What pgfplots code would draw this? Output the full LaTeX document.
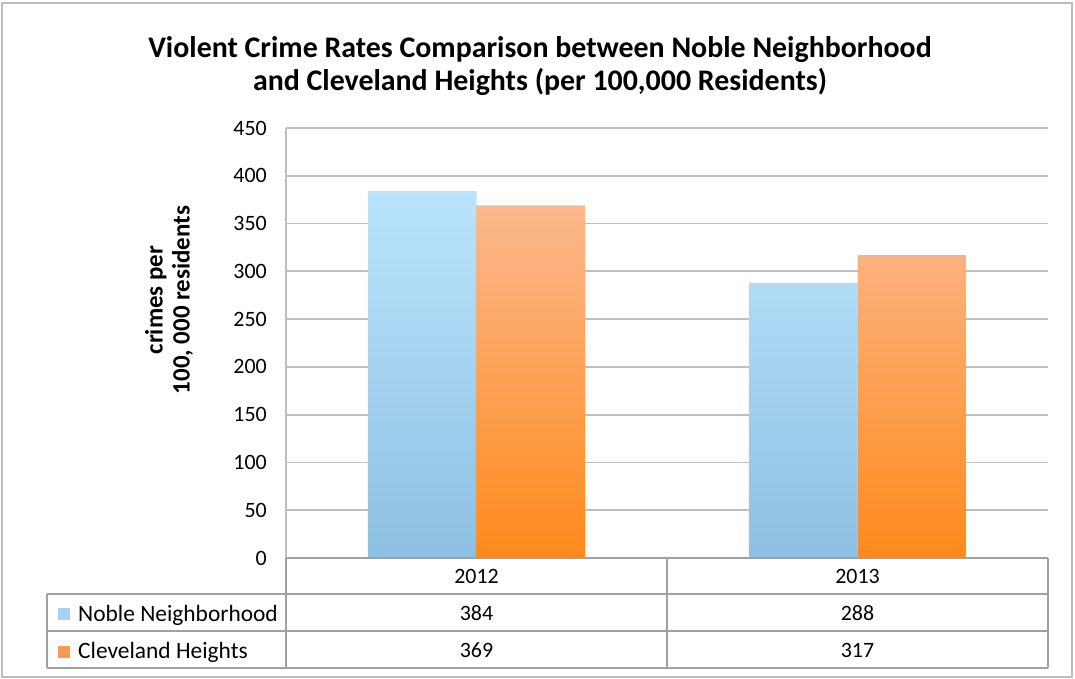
\documentclass[border=0pt]{standalone}
\usepackage{fontspec}
\setmainfont{Carlito}
\usepackage{pgfplots}
\pgfplotsset{compat=1.18}
\definecolor{gridgray}{HTML}{BEBEBE}
\definecolor{tablegray}{HTML}{A0A0A0}
\definecolor{framegray}{HTML}{BDBDBD}
\definecolor{blueTop}{HTML}{BAE4FC}
\definecolor{blueBot}{HTML}{8EC0E2}
\definecolor{orTop}{HTML}{FBB88D}
\definecolor{orBot}{HTML}{FE8A1C}
\definecolor{blueKey}{HTML}{A6D3F0}
\definecolor{orKey}{HTML}{FB9A55}
\begin{document}
\begin{tikzpicture}[x=1bp,y=1bp]
\useasboundingbox (-286,-121) rectangle (789,558);
\draw[framegray, line width=2.5bp] (-284,-119) rectangle (786,555);
\begin{axis}[
  at={(0,0)}, anchor=south west,
  scale only axis, width=762bp, height=430bp,
  xmin=-0.5, xmax=1.5, ymin=0, ymax=450,
  ybar=0pt, bar width=0.285,
  xtick=\empty,
  ytick={0,50,...,450},
  ymajorgrids, grid style={gridgray, line width=1.8bp},
  axis lines*=left,
  axis line style={gridgray, line width=1.8bp, -},
  major tick length=0pt,
  yticklabel style={anchor=east, inner sep=0pt, xshift=-19bp, font=\fontsize{22}{26}\selectfont},
  /pgf/number format/assume math mode=true,
  clip=false,
]
\addplot[draw=none, top color=blueTop, bottom color=blueBot] coordinates {(0,384) (1,288)};
\addplot[draw=none, top color=orTop, bottom color=orBot] coordinates {(0,369) (1,317)};
\end{axis}
% title
\node[align=center, font=\fontsize{30}{33}\selectfont\bfseries] at (254,492)
  {Violent Crime Rates Comparison between Noble Neighborhood\\and Cleveland Heights (per 100,000 Residents)};
% y label
\node[rotate=90, align=center, font=\fontsize{25}{27}\selectfont\bfseries] at (-117,258)
  {crimes per\\100, 000 residents};
% data table
\begin{scope}[tablegray, line width=1.5bp]
\draw (0,0) -- (762,0);
\draw (-239,-36) -- (762,-36);
\draw (-239,-73) -- (762,-73);
\draw (-239,-110) -- (762,-110);
\draw (-239,-36) -- (-239,-110);
\draw (0,0) -- (0,-110);
\draw (381,0) -- (381,-110);
\draw (762,0) -- (762,-110);
\end{scope}
\begin{scope}[font=\fontsize{22}{26}\selectfont]
\node at (190.5,-18) {2012};
\node at (571.5,-18) {2013};
\node at (190.5,-55) {384};
\node at (571.5,-55) {288};
\node at (190.5,-92) {369};
\node at (571.5,-92) {317};
\end{scope}
\fill[blueKey] (-228,-62) rectangle (-216,-50);
\fill[orKey] (-228,-100) rectangle (-216,-88);
\begin{scope}[font=\fontsize{23.5}{26}\selectfont]
\node[anchor=base west, inner sep=0pt] at (-208,-64) {Noble Neighborhood};
\node[anchor=base west, inner sep=0pt] at (-208,-101) {Cleveland Heights};
\end{scope}
\end{tikzpicture}
\end{document}
